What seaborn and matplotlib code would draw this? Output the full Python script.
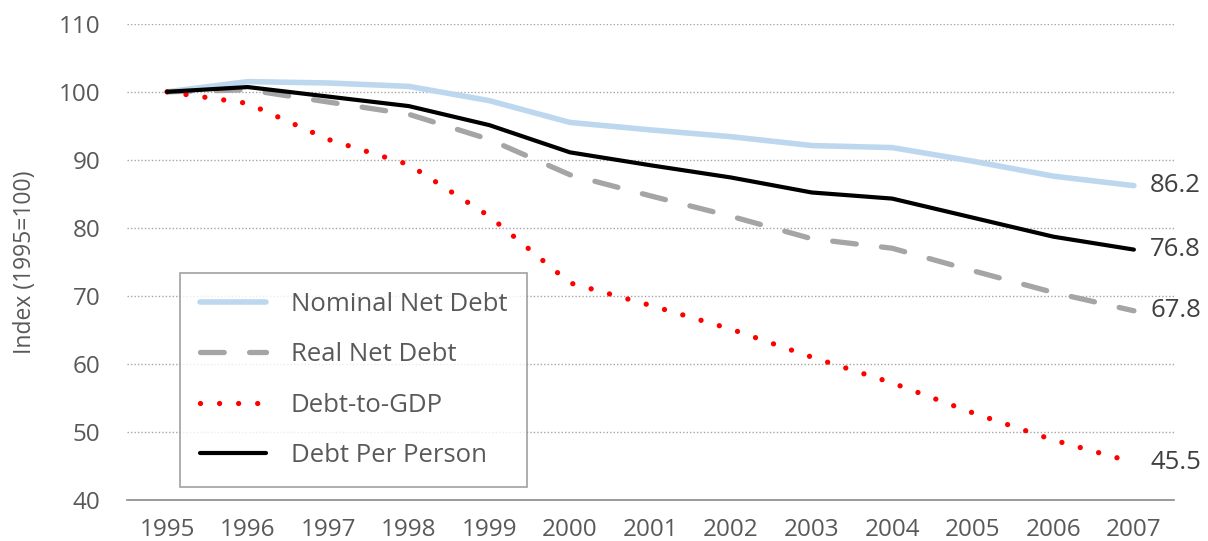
import numpy as np
import pandas as pd
import matplotlib
matplotlib.use("Agg")
import matplotlib.pyplot as plt
import seaborn as sns

years = list(range(1995, 2008))
nominal = [100, 101.5, 101.3, 100.8, 98.7, 95.5, 94.4, 93.4, 92.1, 91.8, 89.8, 87.6, 86.2]
real = [100, 100.3, 98.5, 96.7, 93.0, 87.8, 84.7, 81.7, 78.4, 77.0, 73.7, 70.5, 67.8]
debt_gdp = [100, 98.3, 93.0, 89.3, 81.7, 71.9, 68.6, 65.1, 61.0, 57.2, 52.8, 48.8, 45.5]
per_person = [100, 100.7, 99.3, 97.9, 95.1, 91.1, 89.2, 87.4, 85.2, 84.3, 81.5, 78.7, 76.8]

sns.set_theme(style="white")
plt.rcParams["font.family"] = ["Open Sans", "DejaVu Sans"]

fig = plt.figure(figsize=(12.08, 5.41), dpi=100)
ax = fig.add_axes([0.105, 0.076, 0.867, 0.88])

txt = "#595959"

for y in range(50, 111, 10):
    ax.axhline(y, color="#a6a6a6", lw=1.0, ls=(0, (1, 1.5)), zorder=0)

sns.lineplot(x=years, y=nominal, ax=ax, color="#bdd7ee", lw=4, label="Nominal Net Debt",
             solid_capstyle="round")
sns.lineplot(x=years, y=real, ax=ax, color="#a5a5a5", lw=3.8, label="Real Net Debt",
             dashes=False, linestyle=(0, (4.5, 4.8)), dash_capstyle="round")
sns.lineplot(x=years, y=debt_gdp, ax=ax, color="#ff0000", lw=3.8, label="Debt-to-GDP",
             linestyle=(0, (0.01, 3.6)), dash_capstyle="round")
sns.lineplot(x=years, y=per_person, ax=ax, color="black", lw=3, label="Debt Per Person",
             solid_capstyle="round")

for vals in [nominal, per_person, real, debt_gdp]:
    ax.text(2007.2, vals[-1], f"{vals[-1]:.1f}", va="center", ha="left",
            fontsize=18.5, color="#404040")

ax.set_xlim(1994.5, 2007.5)
ax.set_ylim(40, 110)
ax.set_xticks(years)
ax.set_yticks(range(40, 111, 10))
ax.tick_params(axis="both", length=0, labelsize=17.5, labelcolor=txt)
ax.tick_params(axis="y", pad=19)
ax.tick_params(axis="x", pad=13)
ax.set_ylabel("Index (1995=100)", fontsize=16.5, color=txt, labelpad=16)
ax.set_xlabel("")

for s in ["left", "right", "top"]:
    ax.spines[s].set_visible(False)
ax.spines["bottom"].set_color("#898989")
ax.spines["bottom"].set_linewidth(1.2)

leg = ax.legend(loc="lower left", bbox_to_anchor=(0.051, 0.027), fontsize=18.5,
                frameon=True, fancybox=False, edgecolor="#898989", handlelength=2.6,
                labelspacing=0.98, borderpad=0.75, handletextpad=0.95, borderaxespad=0)
leg.get_frame().set_linewidth(1.2)
for t in leg.get_texts():
    t.set_color(txt)

fig.savefig("out.png", dpi=100)
